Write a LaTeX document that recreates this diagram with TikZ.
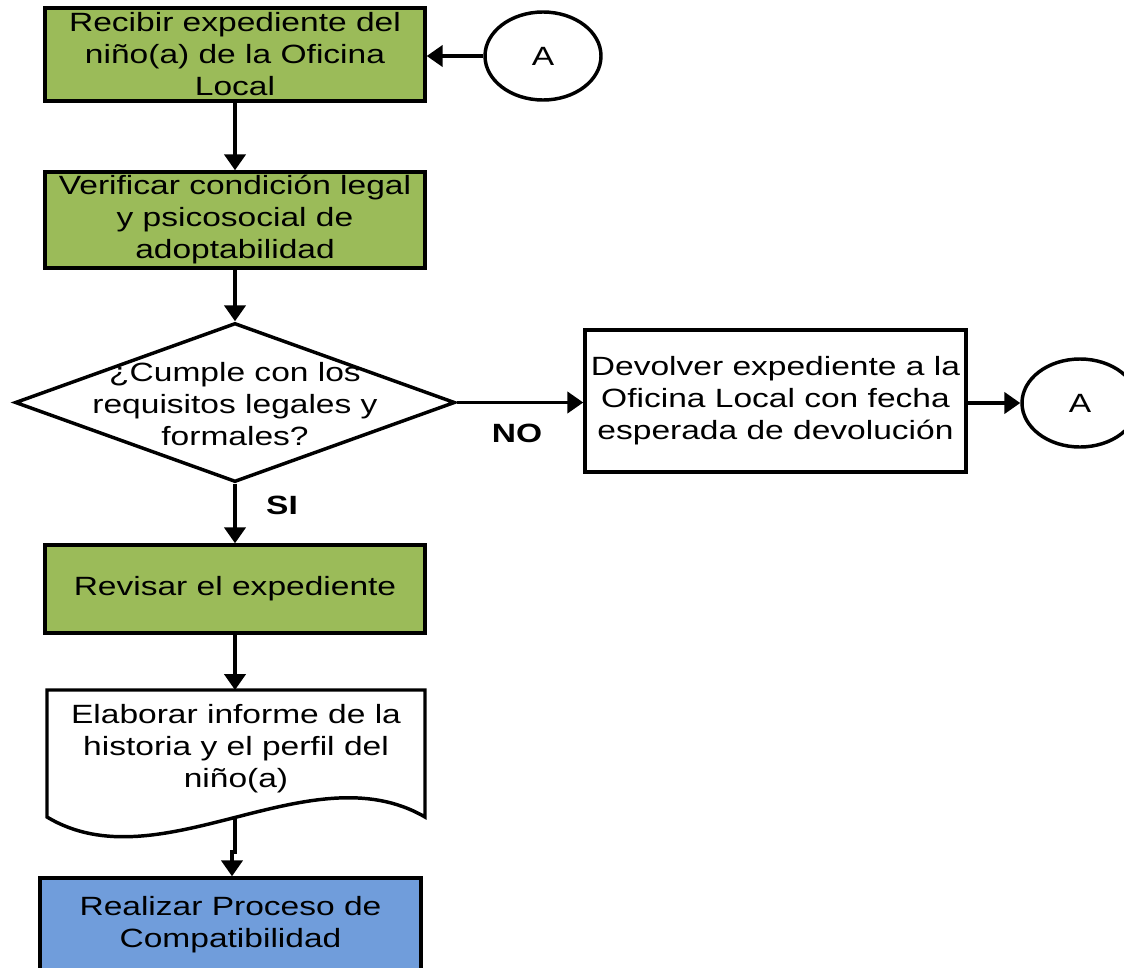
\documentclass[tikz,border=0pt]{standalone}
\usepackage{fontspec}
\setmainfont[FakeStretch=1.27]{Liberation Sans}
\usetikzlibrary{shapes.geometric,arrows.meta}
\definecolor{boxgreen}{RGB}{155,187,89}
\definecolor{boxblue}{RGB}{112,157,219}
\begin{document}
\begin{tikzpicture}[x=0.75pt,y=-0.75pt,
  every node/.style={font=\fontsize{19.8pt}{24pt}\selectfont, text=black},
  proc/.style={draw=black, line width=2.6pt, rectangle, inner sep=0pt, align=center, minimum width=285pt},
  greenbox/.style={proc, fill=boxgreen},
  conn/.style={draw=black, line width=2.6pt, ellipse, minimum width=87pt, minimum height=66pt, inner sep=0pt, fill=white},
  arr/.style={line width=2.6pt, -{Triangle[length=12pt,width=16pt]}},
  lbl/.style={font=\fontsize{19.8pt}{24pt}\selectfont\bfseries}
]
\useasboundingbox (0,0) rectangle (1124,967);

% Box 1
\node[greenbox, minimum height=69.75pt] (b1) at (235,54.5) {Recibir expediente del\\ niño(a) de la Oficina\\ Local};
% Connector A (top)
\node[conn] (a1) at (543,56) {A};
% Box 2
\node[greenbox, minimum height=72pt] (b2) at (235,220) {Verificar condición legal\\ y psicosocial de\\ adoptabilidad};
% Decision diamond
\node[diamond, draw=black, line width=2.6pt, fill=white, minimum width=330pt, minimum height=119.25pt, inner sep=0pt, aspect=2.77] (dia) at (235,402.5) {};
\node[align=center] (diat) at (235,404) {¿Cumple con los\\ requisitos legales y\\ formales?};
% Box 3
\node[proc, fill=white, minimum width=285.75pt, minimum height=106.5pt] (b3) at (775.5,401) {Devolver expediente a la\\ Oficina Local con fecha\\ esperada de devolución};
% Connector A (right)
\node[conn] (a2) at (1080,403) {A};
% Box 4
\node[greenbox, minimum height=66pt] (b4) at (235,589) {Revisar el expediente};
% Document shape
\coordinate (dtl) at (47,690);
\coordinate (dtr) at (425,690);
\coordinate (dbl) at (47,817);
\coordinate (dbr) at (425,817);
\draw[line width=2.6pt, fill=white] (dbl) -- (dtl) -- (dtr) -- (dbr)
  .. controls (310,750) and (160,885) .. (dbl) -- cycle;
\node[align=center] (doc) at (236,749) {Elaborar informe de la\\ historia y el perfil del\\ niño(a)};
\coordinate (dtop) at (235,690);
\coordinate (dbot) at (235,818);
\coordinate (jog1) at (235,852);
\coordinate (jog2) at (232,852);
% Box 5
\node[proc, fill=boxblue, minimum width=285.75pt, minimum height=70.5pt] (b5) at (230.5,925) {Realizar Proceso de\\ Compatibilidad};

% Connectors
\draw[arr] (a1.west) -- (a1.west -| b1.east);
\draw[arr] (b1.south) -- (b2.north);
\draw[arr] (b2.south) -- (dia.north);
\draw[arr] (dia.east) -- (b3.west |- dia.east);
\draw[arr] (b3.east |- a2.west) -- (a2.west);
\draw[arr] (dia.south) -- (b4.north);
\draw[arr] (b4.south) -- (dtop);
\draw[arr] (dbot) -- (jog1) -- (jog2) -- (jog2 |- b5.north);

% Labels
\node[lbl] (no) at (517,433) {NO};
\node[lbl] (si) at (282,505) {SI};
\end{tikzpicture}
\end{document}
